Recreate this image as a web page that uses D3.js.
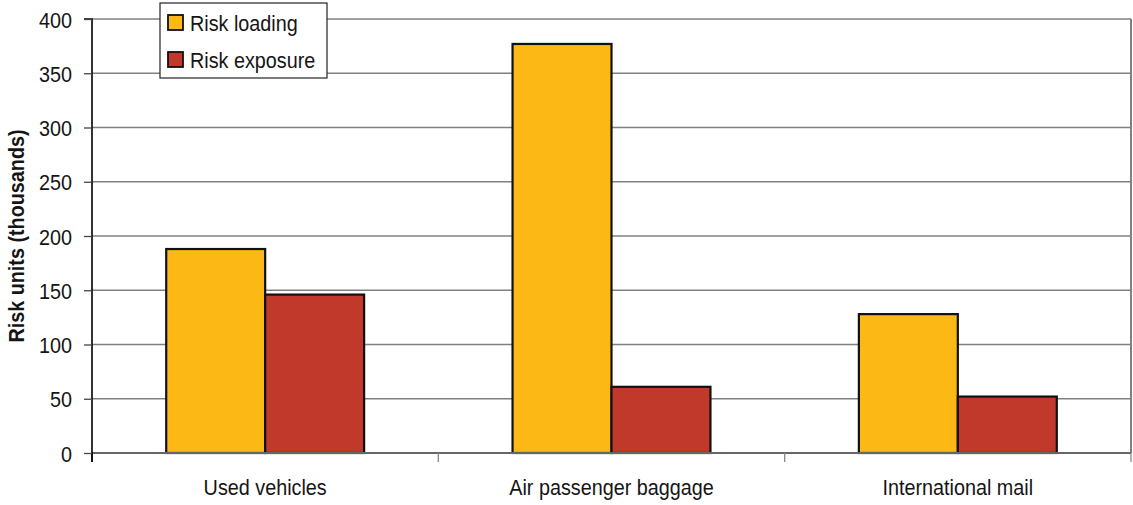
<!DOCTYPE html>
<html>
<head>
<meta charset="utf-8">
<script src="https://cdn.jsdelivr.net/npm/d3@7"></script>
<style>
  html, body { margin: 0; padding: 0; background: #fff; }
  svg text { font-family: "Liberation Sans", Arial, sans-serif; fill: #151515; }
</style>
</head>
<body>
<svg id="chart" width="1133" height="505"></svg>
<script>
// Risk units (thousands) by import stream
const categories = ["Used vehicles", "Air passenger baggage", "International mail"];
const seriesNames = ["Risk loading", "Risk exposure"];
const riskLoading = [188, 377, 128];
const riskExposure = [146, 61, 52];
const yTicks = [0, 50, 100, 150, 200, 250, 300, 350, 400];
const colors = ["#FCB814", "#C0392A"];

const svg = d3.select("#chart");
const margin = { left: 92, right: 2, top: 19, bottom: 52 };
const W = 1133, H = 505;
const x0 = margin.left, x1 = W - margin.right;
const yBottom = H - margin.bottom, yTop = margin.top;
const FS = 22, SQUEEZE = 0.9;   // condensed text look

// text helper: condensed horizontally around its anchor point
function label(parent, tx, ty, str, anchor, opts = {}) {
  const g = parent.append("g").attr("transform", `translate(${tx},${ty})${opts.rotate ? " rotate(" + opts.rotate + ")" : ""}`);
  return g.append("text")
    .attr("transform", `scale(${SQUEEZE},1)`)
    .attr("text-anchor", anchor)
    .attr("font-size", opts.size || FS)
    .attr("font-weight", opts.bold ? "bold" : "normal")
    .text(str);
}

const x = d3.scaleBand().domain(categories).range([x0, x1]).paddingInner(0).paddingOuter(0);
const xs = d3.scaleBand().domain(seriesNames).range([0, x.bandwidth()]).paddingInner(0).paddingOuter(0.75);
const y = d3.scaleLinear().domain([0, 400]).range([yBottom, yTop]);

// horizontal gridlines
svg.append("g").selectAll("line").data(yTicks).join("line")
  .attr("x1", x0).attr("x2", x1)
  .attr("y1", d => y(d)).attr("y2", d => y(d))
  .attr("stroke", "#808080").attr("stroke-width", 1.6);

// right border of plot
svg.append("line").attr("x1", x1).attr("x2", x1).attr("y1", yTop).attr("y2", yBottom)
  .attr("stroke", "#808080").attr("stroke-width", 2);

// bars
const rows = categories.map((c, i) => ({ c, vals: [riskLoading[i], riskExposure[i]] }));
svg.append("g").selectAll("g").data(rows).join("g")
  .attr("transform", d => `translate(${x(d.c)},0)`)
  .selectAll("rect").data(d => d.vals.map((v, j) => ({ v, s: seriesNames[j], j })))
  .join("rect")
  .attr("x", d => xs(d.s)).attr("width", xs.bandwidth())
  .attr("y", d => y(d.v)).attr("height", d => y(0) - y(d.v))
  .attr("fill", d => colors[d.j]).attr("stroke", "#111").attr("stroke-width", 2.2);

// x axis
const xAxis = svg.append("g").attr("transform", `translate(0,${yBottom})`);
xAxis.append("line").attr("x1", x0).attr("x2", x1).attr("y1", 0).attr("y2", 0)
  .attr("stroke", "#666").attr("stroke-width", 2);
const boundaries = categories.map(c => x(c)).concat([x1]);
xAxis.selectAll("line.tick").data(boundaries).join("line").attr("class", "tick")
  .attr("x1", d => d).attr("x2", d => d).attr("y1", 0).attr("y2", 9)
  .attr("stroke", (d, i) => i === 0 ? "#000" : "#888").attr("stroke-width", 1.3);
categories.forEach(c => label(xAxis, x(c) + x.bandwidth() / 2, 42, c, "middle"));

// y axis
const yAxis = svg.append("g").attr("transform", `translate(${x0},0)`)
  .call(d3.axisLeft(y).tickValues(yTicks).tickSize(8).tickFormat(() => ""));
yAxis.select(".domain").attr("stroke", "#000").attr("stroke-width", 1.6)
  .attr("d", `M-8,${yTop}H0V${yBottom + 9}`);
yAxis.selectAll(".tick line").attr("stroke", "#444").attr("stroke-width", 1.3);
yAxis.selectAll(".tick").each(function(d) {
  label(d3.select(this), -20, 8, d3.format("d")(d), "end");
});

// y axis title
label(svg, 24, (yTop + yBottom) / 2, "Risk units (thousands)", "middle", { bold: true, rotate: -90 });

// legend
const lg = svg.append("g").attr("transform", "translate(160,3)");
lg.append("rect").attr("width", 167).attr("height", 75)
  .attr("fill", "#fff").attr("stroke", "#222").attr("stroke-width", 1.2);
seriesNames.forEach((s, i) => {
  const yy = 20 + i * 37;
  lg.append("rect").attr("x", 8).attr("y", yy - 8).attr("width", 15).attr("height", 15)
    .attr("fill", colors[i]).attr("stroke", "#111").attr("stroke-width", 1.8);
  label(lg, 30, yy + 8, s, "start");
});
</script>
</body>
</html>
